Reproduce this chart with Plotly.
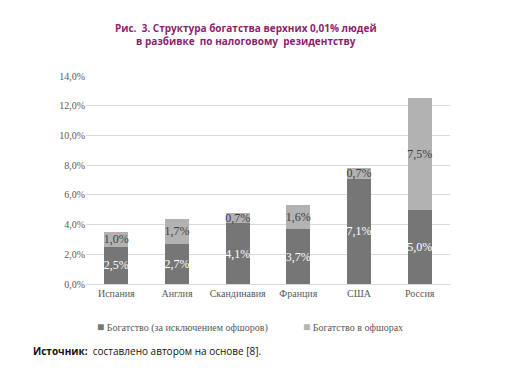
import plotly.graph_objects as go

categories = ["Испания", "Англия", "Скандинавия", "Франция", "США", "Россия"]
wealth_excl_offshore = [2.5, 2.7, 4.1, 3.7, 7.1, 5.0]
wealth_offshore = [1.0, 1.7, 0.7, 1.6, 0.7, 7.5]
tick_vals = [0, 2, 4, 6, 8, 10, 12, 14]
tick_text = [f"{v:.1f}%".replace(".", ",") for v in tick_vals]
series_names = ["Богатство (за исключением офшоров)", "Богатство в офшорах"]
series_colors = ["#767676", "#B2B2B2"]

serif = "Liberation Serif, serif"
sans = "Open Sans"

fig = go.Figure()
for vals, name, color, tcolor in [
    (wealth_excl_offshore, series_names[0], series_colors[0], "white"),
    (wealth_offshore, series_names[1], series_colors[1], "#404040"),
]:
    fig.add_trace(go.Bar(
        x=categories, y=vals, name=name,
        marker=dict(color=color, line=dict(width=0)),
        text=[f"{v:.1f}%".replace(".", ",") for v in vals],
        textposition="inside", insidetextanchor="middle",
        constraintext="none", textangle=0,
        textfont=dict(family=serif, size=12, color=tcolor),
        insidetextfont=dict(family=serif, size=12, color=tcolor),
    ))

legend_ann = [
    dict(text=f"<span style='color:{series_colors[0]};font-size:12px'>■</span> {series_names[0]}",
         xref="paper", yref="paper", x=0.025, y=-0.207, xanchor="left", yanchor="middle",
         showarrow=False, font=dict(family=serif, size=10, color="#595959")),
    dict(text=f"<span style='color:{series_colors[1]};font-size:12px'>■</span> {series_names[1]}",
         xref="paper", yref="paper", x=0.59, y=-0.207, xanchor="left", yanchor="middle",
         showarrow=False, font=dict(family=serif, size=10, color="#595959")),
]

fig.update_layout(
    width=513, height=371,
    barmode="stack", bargap=0.6,
    paper_bgcolor="white", plot_bgcolor="white",
    margin=dict(l=78, r=71, t=68, b=95),
    font=dict(family=serif, size=10, color="#595959"),
    showlegend=False,
    xaxis=dict(showgrid=False, showline=True, linecolor="#D9D9D9", linewidth=1,
               tickfont=dict(family=serif, size=10, color="#595959"), ticks=""),
    yaxis=dict(range=[0, 14], tickvals=tick_vals, ticktext=tick_text,
               showgrid=True, gridcolor="#D9D9D9", gridwidth=1, zeroline=False,
               showline=False, ticks="",
               tickfont=dict(family=serif, size=10, color="#595959")),
    annotations=[
        dict(text="<b>Рис.  3. Структура богатства верхних 0,01% людей<br>в разбивке  по налоговому  резидентству</b>",
             xref="paper", yref="paper", x=0.44, y=1.2, xanchor="center", yanchor="middle",
             showarrow=False, align="center",
             font=dict(family=sans, size=10, color="#8E1E6E")),
        dict(text="<b>Источник:</b>  составлено автором на основе [8].",
             xref="paper", yref="paper", x=-0.15, y=-0.322, xanchor="left", yanchor="middle",
             showarrow=False,
             font=dict(family=sans, size=10, color="#111111")),
    ] + legend_ann,
)

fig.write_html("out.html")
